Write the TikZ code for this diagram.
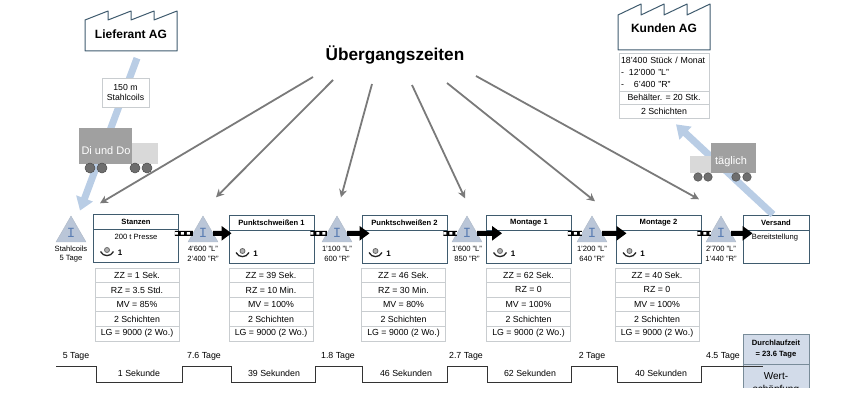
\documentclass[tikz,border=0pt]{standalone}
\usepackage{fontspec}
\setmainfont{Liberation Sans}
\setmonofont{Liberation Mono}
\usetikzlibrary{shapes.geometric,arrows.meta}

\definecolor{boxline}{HTML}{3F5B6E}
\definecolor{rowline}{HTML}{C9CDD0}
\definecolor{flowblue}{HTML}{B9CDE5}
\definecolor{invfill}{HTML}{BAC6D8}
\definecolor{ibeam}{HTML}{5A7DB3}
\definecolor{zeitgrey}{HTML}{7A7A7A}
\definecolor{lkwdark}{HTML}{A0A0A0}
\definecolor{lkwlight}{HTML}{D9D9D9}
\definecolor{wheelgrey}{HTML}{6E6E6E}
\definecolor{sumfill}{HTML}{D2DBE9}

\tikzset{
    fabrik/.style = {draw = boxline, line width = 1pt, line join = round},
    fabriktxt/.style = {font = \fontsize{12}{14}\selectfont\bfseries, minimum width = 92pt, minimum height = 34pt, inner sep = 0pt},
    procbox/.style = {draw = boxline, line width = 0.9pt, fill = white, minimum width = 85pt, minimum height = 48pt, inner sep = 0pt},
    proctxt/.style = {font = \fontsize{7.6}{9}\selectfont\bfseries, inner sep = 0pt},
    small/.style = {font = \fontsize{7.6}{9.5}\selectfont, inner sep = 0pt, align = center},
    tabrow/.style = {draw = rowline, line width = 0.7pt, minimum width = 84pt, minimum height = 14.6pt, inner sep = 0pt, font = \fontsize{8.8}{12}\selectfont},
    plain/.style = {font = \fontsize{8.8}{11}\selectfont, inner sep = 0pt},
    invtri/.style = {regular polygon, regular polygon sides = 3, minimum size = 34.6pt, inner sep = 0pt, draw = invfill!80!gray, fill = invfill, text = ibeam, font = \fontsize{14}{14}\selectfont\ttfamily},
    flowarrow/.style = {draw = flowblue, line width = 7pt, -{Triangle[length = 13pt, width = 17pt]}},
    zeitarrow/.style = {draw = zeitgrey, line width = 1.8pt, -{Stealth[length = 8pt, width = 8pt]}},
    pushbar/.style = {line width = 5pt, black, postaction = {draw, white, line width = 2.4pt, dash pattern = on 3pt off 3pt}},
    pusharrow/.style = {line width = 5pt, black, -{Triangle[length = 10pt, width = 14pt]}},
    lkw/.style = {fill = #1, inner sep = 0pt},
    lkwtxt/.style = {text = white, font = \fontsize{11}{13}\selectfont, inner sep = 0pt},
    wheel/.style = {circle, draw = wheelgrey!70!black, fill = wheelgrey, line width = 0.5pt, minimum size = #1, inner sep = 0pt},
    opline/.style = {line width = 1.3pt, black!85}
}

\begin{document}
\begin{tikzpicture}[x = 1pt, y = -1pt]
    \useasboundingbox (0,0) rectangle (846,404);

    % Factories
    \draw [fabrik] (85,51) -- (85,20) -- (108,11) -- (108,20) -- (131,11) -- (131,20) -- (154,11) -- (154,20) -- (177,11) -- (177,51) -- cycle;
    \node [fabriktxt] (lieferant) at (131,34) {Lieferant AG};
    \draw [fabrik] (618,50) -- (618,15) -- (641,4) -- (641,15) -- (664,4) -- (664,15) -- (687,4) -- (687,15) -- (710,4) -- (710,50) -- cycle;
    \node [fabriktxt] (kunden) at (664,28) {Kunden AG};

    % Customer table
    \node [tabrow, minimum width = 90pt, minimum height = 38pt, text width = 86pt, inner xsep = 2pt, align = left] (kundenA) at (664,72)
        {18'400 Stück / Monat\\-\hspace{5pt}12'000 "L"\\-\hspace{10pt}6'400 "R"};
    \node [tabrow, minimum width = 90pt, minimum height = 13pt] (kundenB) at (664,97.5) {Behälter. = 20 Stk.};
    \node [tabrow, minimum width = 90pt, minimum height = 14pt] (kundenC) at (664,111) {2 Schichten};

    % Title
    \node [font = \fontsize{17.2}{20}\selectfont\bfseries, inner sep = 0pt] (titel) at (395,55) {Übergangszeiten};

    % Process boxes with operator symbol
    \foreach \nm/\cx/\yc/\hd in {A/136/238/Stanzen, B/271.5/239/Punktschweißen 1, C/404.5/239/Punktschweißen 2, D/529/239/Montage 1, E/658.5/239/Montage 2} {
        \node [procbox] (proc\nm) at (\cx,\yc) {};
        \draw [boxline, line width = 0.7pt] ([yshift = -16pt]proc\nm.north west) -- ([yshift = -16pt]proc\nm.north east);
        \node [proctxt] (head\nm) at ([yshift = -8pt]proc\nm.north) {\hd};
        \draw [opline, shift = {(\cx-29,\yc+12.5)}] (-6.5,1) .. controls (-4,6.5) and (4,6.5) .. (6.5,1);
        \draw [black!60, line width = 0.8pt, fill = black!30, shift = {(\cx-29,\yc+12.5)}] (0,-0.5) circle (2.5);
        \node [font = \fontsize{8}{9}\selectfont\bfseries, inner sep = 0pt] (anz\nm) at (\cx-16,\yc+15) {1};
    }
    \node [proctxt, font = \fontsize{7.6}{9}\selectfont] (presse) at (136,237) {200 t Presse};

    \node [procbox, minimum width = 66pt] (procF) at (776,239) {};
    \draw [boxline, line width = 0.7pt] ([yshift = -16pt]procF.north west) -- ([yshift = -16pt]procF.north east);
    \node [proctxt] (headF) at ([yshift = -8pt]procF.north) {Versand};
    \node [proctxt, font = \fontsize{7.6}{9}\selectfont] (bereit) at (775,238) {Bereitstellung};

    % Data tables below the process boxes
    \foreach \nm/\cx/\zz/\rz/\mv in {A/137/1 Sek./3.5 Std./85, B/271/39 Sek./10 Min./100, C/403.5/46 Sek./30 Min./80, D/528.5/62 Sek./0/100, E/657/40 Sek./0/100} {
        \foreach \i/\txt in {0/ZZ = \zz, 1/RZ = \rz, 2/MV = \mv\%, 3/2 Schichten, 4/LG = 9000 (2 Wo.)} {
            \node [tabrow] (data\nm\i) at (\cx,{275.3 + 14.6*\i}) {\txt};
        }
    }

    % Inventory triangles
    \foreach \nm/\cx/\lab in {A/71/{Stahlcoils\\5 Tage}, B/203/{4'600 "L"\\2'400 "R"}, C/337/{1'100 "L"\\600 "R"}, D/467/{1'600 "L"\\850 "R"}, E/592/{1'200 "L"\\640 "R"}, F/721/{2'700 "L"\\1'440 "R"}} {
        \node [invtri] (inv\nm) at (\cx,233.3) {I};
        \node [small] (menge\nm) at (\cx,254) {\lab};
    }

    % Push connections
    \foreach \a/\b/\tip in {A/B/3, B/C/8, C/D/16, D/E/11, E/F/10} {
        \draw [pushbar] ([xshift = -4pt]proc\a.east |- inv\b) -- (inv\b);
        \draw [pusharrow] (inv\b) -- ([xshift = \tip pt]proc\b.west |- inv\b);
    }

    % Material flow
    \draw [flowarrow] ([shift = {(6,7)}]lieferant.south) -- ([shift = {(9,-5)}]invA.north);
    \draw [flowarrow] ([xshift = -3pt]procF.north) -- ([shift = {(12,6)}]kundenC.south);
    \node [draw = rowline, fill = white, line width = 0.7pt, inner sep = 0pt, minimum width = 47pt, minimum height = 29pt, align = center, font = \fontsize{8.7}{10}\selectfont] (coils) at (125.5,92.5) {150 m\\Stahlcoils};

    % Arrows from the title
    \foreach \inv/\ax/\ay/\bx/\by in {A/-82/22/29/-30, B/-62/25/13/-36, C/-23/29/4/-36, D/17/30/-2/-35, E/52/28/3/-32, F/81/21/-22/-34} {
        \draw [zeitarrow] ([shift = {(\ax,\ay)}]titel.center) -- ([shift = {(\bx,\by)}]inv\inv.center);
    }

    % Trucks
    \node [lkw = lkwlight, minimum width = 26pt, minimum height = 21pt] (kabineA) at (145,153.5) {};
    \node [lkw = lkwdark, minimum width = 53pt, minimum height = 36pt] (ladungA) at (105.5,146) {};
    \node [lkwtxt] (lkwtxtA) at (106,151) {Di und Do};
    \foreach \cx [count = \k] in {90,102,135,147} {
        \node [wheel = 10pt] (radA\k) at (\cx,168) {};
    }
    \node [lkw = lkwlight, minimum width = 21pt, minimum height = 17pt] (kabineB) at (700.5,164.5) {};
    \node [lkw = lkwdark, minimum width = 45pt, minimum height = 30pt] (ladungB) at (733.5,158) {};
    \node [lkwtxt] (lkwtxtB) at (731,162) {täglich};
    \foreach \cx [count = \k] in {698,708,736,747} {
        \node [wheel = 8.5pt] (radB\k) at (\cx,177) {};
    }

    % Lead time box, cut off at the bottom
    \begin{scope}
        \clip (735,330) rectangle (815,387);
        \node [draw = boxline!70, line width = 1pt, fill = sumfill, minimum width = 66pt, minimum height = 70pt, inner sep = 0pt] (summe) at (776,369) {};
        \node [font = \fontsize{10}{12}\selectfont, inner sep = 0pt] (wert) at (776,376) {Wert-};
        \node [font = \fontsize{10}{12}\selectfont, inner sep = 0pt] (schoepf) at (776,389.5) {schöpfung};
    \end{scope}
    \draw [boxline!70, line width = 1pt] (summe.west |- 0,364.5) -- (summe.east |- 0,364.5);
    \node [proctxt] (durch) at (776,343) {Durchlaufzeit};
    \node [proctxt] (tagesum) at (776,355) {= 23.6 Tage};

    % Time line
    \draw [black!80, line width = 1pt] (56,366) -| (96,382) -| (182,366) -| (231,382) -| (315,366) -| (362,382) -| (447,366) -| (487,382) -| (571,366) -| (617,382) -| (701,366) -- (763,366);
    \foreach \cx/\txt [count = \k] in {76/5 Tage, 204/7.6 Tage, 338/1.8 Tage, 466/2.7 Tage, 592/2 Tage, 723/4.5 Tage} {
        \node [plain] (liege\k) at (\cx,356) {\txt};
    }
    \foreach \cx/\txt [count = \k] in {139/1 Sekunde, 274/39 Sekunden, 406/46 Sekunden, 530/62 Sekunden, 661/40 Sekunden} {
        \node [plain] (takt\k) at (\cx,373) {\txt};
    }
\end{tikzpicture}
\end{document}
